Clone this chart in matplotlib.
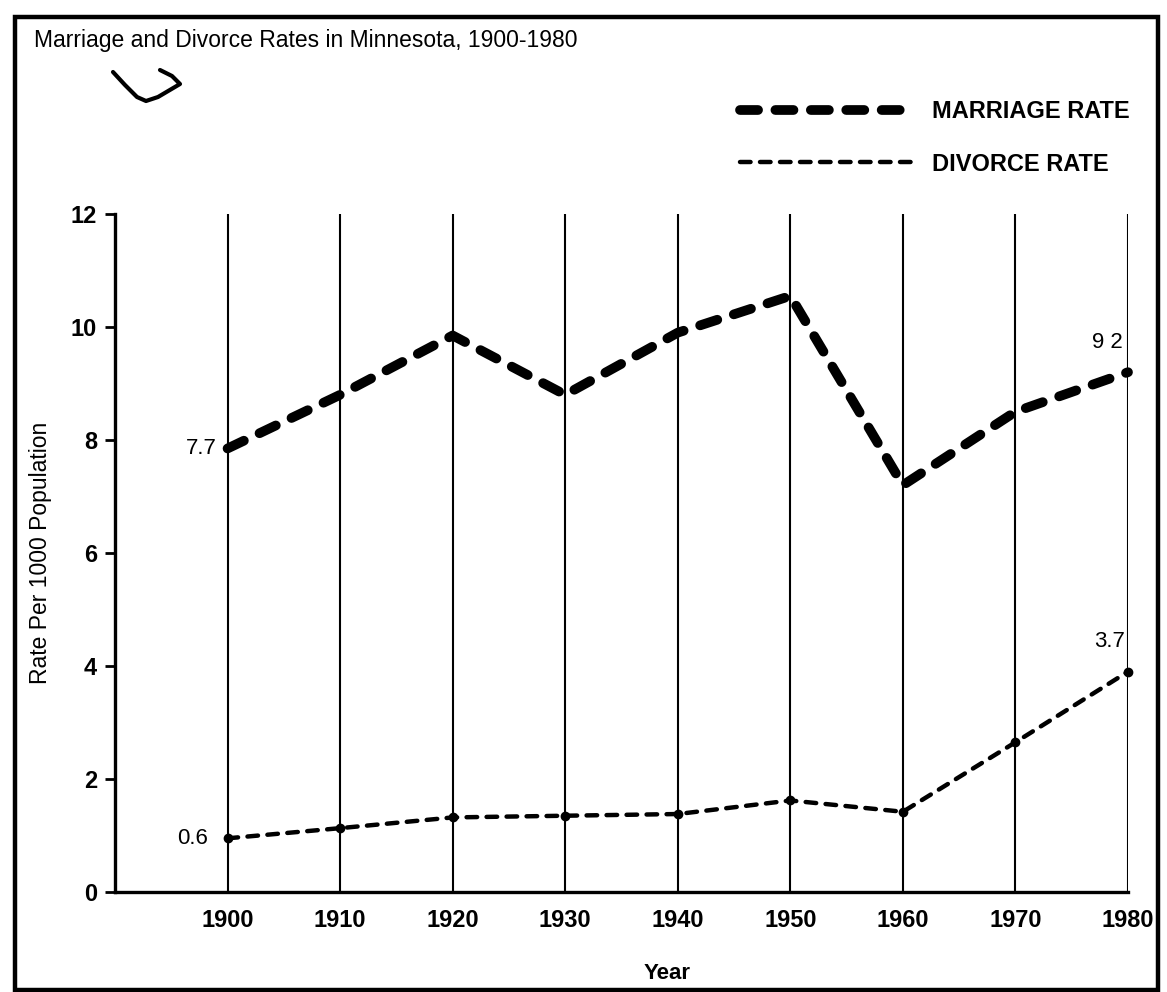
import matplotlib.pyplot as plt
from matplotlib.lines import Line2D
from matplotlib.patches import Rectangle

plt.rcParams['font.family'] = ['Liberation Sans', 'DejaVu Sans']
plt.rcParams['lines.scale_dashes'] = False

# values
years = [1900, 1910, 1920, 1930, 1940, 1950, 1960, 1970, 1980]
marriage = [7.85, 8.8, 9.85, 8.8, 9.9, 10.55, 7.2, 8.5, 9.2]
divorce = [0.95, 1.13, 1.32, 1.35, 1.38, 1.62, 1.42, 2.65, 3.9]
yticks = [0, 2, 4, 6, 8, 10, 12]

# printed value labels: text, year, value they sit next to
note_text = ['7.7', '9 2', '0.6', '3.7']
note_year = [1900, 1980, 1900, 1980]
note_value = [7.85, 9.2, 0.95, 3.9]

W, H = 1167, 992


def px(x, y):
    # pixel position (from top-left) -> figure fraction
    return x / W, 1 - y / H


fig = plt.figure(figsize=(W / 100, H / 100), dpi=100)
fig.patch.set_facecolor('white')

# outer frame of the scanned page
fig.add_artist(Rectangle(px(15, 990), (1158 - 15) / W, (990 - 17) / H,
                         transform=fig.transFigure, fill=False,
                         lw=3.2, ec='black'))

# hand-drawn tick below the title
sx = [113, 125, 137, 146, 158, 180, 172, 160]
sy = [72, 85, 97, 101, 97, 84, 76, 70]
fig.add_artist(Line2D([a / W for a in sx], [1 - b / H for b in sy],
                      transform=fig.transFigure, color='black', lw=3,
                      solid_capstyle='round', solid_joinstyle='round'))

fig.text(*px(34, 40), 'Marriage and Divorce Rates in Minnesota, 1900-1980',
         fontsize=16.5, va='center', ha='left')

l, b = px(115, 892)
r, t = px(1128, 214)
ax = fig.add_axes([l, b, r - l, t - b])

ax.set_xlim(1890, 1980)
ax.set_ylim(0, 12)

for side in ['top', 'right']:
    ax.spines[side].set_visible(False)
for side in ['left', 'bottom']:
    ax.spines[side].set_linewidth(2.4)

ax.set_xticks(years)
ax.set_xticklabels([str(y) for y in years])
ax.set_yticks(yticks)
ax.tick_params(axis='x', length=0, pad=12, labelsize=17)
ax.tick_params(axis='y', length=7, width=2, pad=6, labelsize=17)
for lab in ax.get_xticklabels() + ax.get_yticklabels():
    lab.set_fontweight('bold')

ax.xaxis.grid(True, color='black', lw=1.5)
ax.set_axisbelow(True)

ax.plot(years, marriage, color='black', lw=7, dashes=(13, 12.5),
        dash_capstyle='round', clip_on=False, label='MARRIAGE RATE', zorder=3)
ax.plot(years, divorce, color='black', lw=3.2, dashes=(7.6, 6.8),
        dash_capstyle='round', clip_on=False, label='DIVORCE RATE', zorder=3)
ax.plot(years, divorce, 'o', color='black', ms=6, clip_on=False, zorder=4)

offsets = [(-8, 0, 'right', 'center'), (-4, 14, 'right', 'bottom'),
           (-14, 0, 'right', 'center'), (-2, 14, 'right', 'bottom')]
for txt, yr, val, (dx, dy, ha, va) in zip(note_text, note_year, note_value, offsets):
    ax.annotate(txt, (yr, val), xytext=(dx, dy), textcoords='offset points',
                ha=ha, va=va, fontsize=16)

ax.set_ylabel('Rate Per 1000 Population', fontsize=16.5)
ax.yaxis.set_label_coords(-0.062, 0.5)
ax.set_xlabel('Year', fontsize=16, fontweight='bold')
ax.xaxis.set_label_coords(0.545, -0.105)

ax.legend(loc='upper left', bbox_to_anchor=px(740, 100),
          bbox_transform=fig.transFigure, frameon=False,
          prop={'size': 17, 'weight': 'bold'},
          handlelength=7.4, handletextpad=0.75, labelspacing=1.25,
          borderpad=0, borderaxespad=0)

fig.savefig('out.png', dpi=100)
